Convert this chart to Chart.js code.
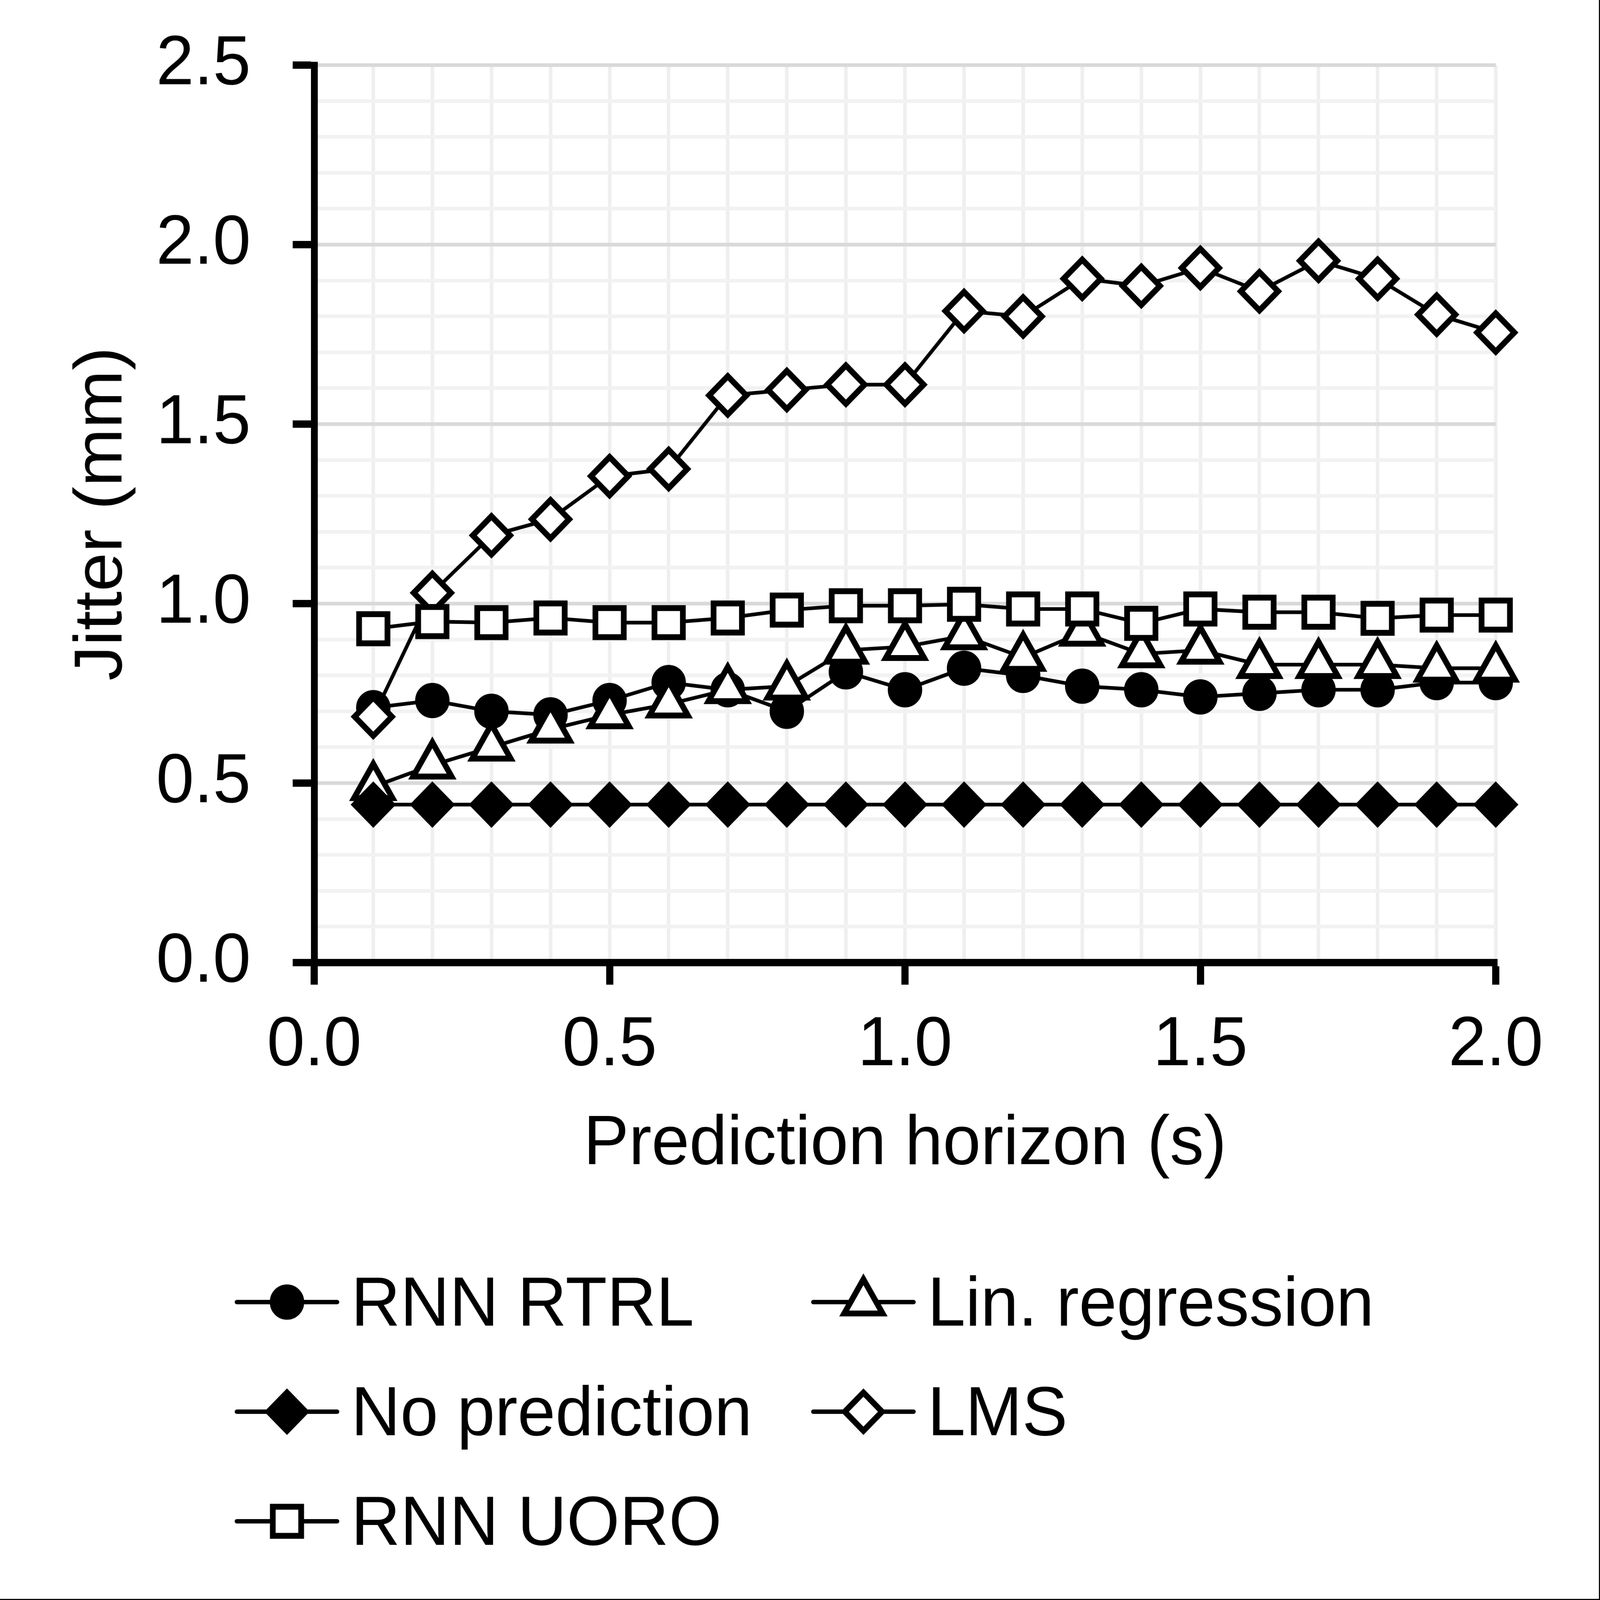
<!DOCTYPE html>
<html>
<head>
<meta charset="utf-8">
<script src="https://cdn.jsdelivr.net/npm/chart.js@4.4.1/dist/chart.umd.min.js"></script>
<style>
  html, body { margin: 0; padding: 0; background: #fff; overflow: hidden; }
</style>
</head>
<body>
<canvas id="chart" width="4466" height="4350" style="width:100vw;height:100vh;display:block"></canvas>
<script>
// --- DATA ---
const horizons = [0.1, 0.2, 0.3, 0.4, 0.5, 0.6, 0.7, 0.8, 0.9, 1.0, 1.1, 1.2, 1.3, 1.4, 1.5, 1.6, 1.7, 1.8, 1.9, 2.0];
const rnnRtrl = [0.71, 0.73, 0.70, 0.69, 0.73, 0.78, 0.76, 0.70, 0.81, 0.76, 0.82, 0.80, 0.77, 0.76, 0.74, 0.75, 0.76, 0.76, 0.78, 0.78];
const linRegression = [0.49, 0.55, 0.60, 0.65, 0.69, 0.72, 0.76, 0.77, 0.87, 0.88, 0.91, 0.85, 0.92, 0.86, 0.87, 0.83, 0.83, 0.83, 0.82, 0.82];
const noPrediction = [0.44, 0.44, 0.44, 0.44, 0.44, 0.44, 0.44, 0.44, 0.44, 0.44, 0.44, 0.44, 0.44, 0.44, 0.44, 0.44, 0.44, 0.44, 0.44, 0.44];
const lms = [0.685, 1.03, 1.19, 1.235, 1.355, 1.375, 1.58, 1.595, 1.61, 1.61, 1.815, 1.80, 1.905, 1.885, 1.935, 1.87, 1.955, 1.905, 1.805, 1.755];
const rnnUoro = [0.93, 0.95, 0.947, 0.96, 0.947, 0.947, 0.96, 0.982, 0.994, 0.994, 0.998, 0.985, 0.985, 0.945, 0.985, 0.976, 0.976, 0.959, 0.968, 0.968];

const seriesNames = ['RNN RTRL', 'Lin. regression', 'No prediction', 'LMS', 'RNN UORO'];
const xTickLabels = ['0.0', '0.5', '1.0', '1.5', '2.0'];
const yTickLabels = ['0.0', '0.5', '1.0', '1.5', '2.0', '2.5'];

const FONT = '"Liberation Sans", Arial, sans-serif';

// marker look per series (Excel style black/white markers)
const markers = [
    { style: 'circle',   radius: 40, fill: '#000' },
    { style: 'triangle', radius: 62, fill: '#fff' },
    { style: 'rectRot',  radius: 52, fill: '#000' },
    { style: 'rectRot',  radius: 52, fill: '#fff' },
    { style: 'rect',     radius: 56, fill: '#fff' }
];
const seriesValues = [rnnRtrl, linRegression, noPrediction, lms, rnnUoro];

const isMajor = v => Math.abs(v * 2 - Math.round(v * 2)) < 1e-6;

function toPoints(values) {
    return horizons.map((h, i) => ({ x: h, y: values[i] }));
}

const datasets = seriesNames.map((name, i) => ({
    label: name,
    data: toPoints(seriesValues[i]),
    borderColor: '#000',
    borderWidth: 10,
    backgroundColor: markers[i].fill,
    pointStyle: markers[i].style,
    pointRadius: markers[i].radius,
    pointHoverRadius: markers[i].radius,
    pointBackgroundColor: markers[i].fill,
    pointBorderColor: '#000',
    pointBorderWidth: 16,
    tension: 0,
    fill: false,
    clip: false,
    // later series sit on top, like the original
    order: seriesNames.length - i
}));

// --- LEGEND (two columns, line + marker) ---
const legendPlugin = {
    id: 'gridLegend',
    afterDraw(chart) {
        const ctx = chart.ctx;
        const colX = [661, 2270];
        const rowY = [3540, 3838, 4136];
        const lineLen = 280;

        ctx.save();
        seriesNames.forEach((name, i) => {
            const col = i % 2;
            const row = Math.floor(i / 2);
            const x0 = colX[col];
            const y = rowY[row];

            ctx.strokeStyle = '#000';
            ctx.lineWidth = 12;
            ctx.lineCap = 'round';
            ctx.beginPath();
            ctx.moveTo(x0, y);
            ctx.lineTo(x0 + lineLen, y);
            ctx.stroke();

            ctx.lineCap = 'butt';
            ctx.fillStyle = markers[i].fill;
            ctx.lineWidth = 16;
            Chart.helpers.drawPoint(ctx, {
                pointStyle: markers[i].style,
                radius: markers[i].radius,
                rotation: 0,
                borderWidth: 16
            }, x0 + lineLen / 2, y);

            ctx.fillStyle = '#000';
            ctx.font = '190px ' + FONT;
            ctx.textAlign = 'left';
            ctx.textBaseline = 'alphabetic';
            ctx.fillText(name, x0 + lineLen + 39, y + 64);
        });

        // thin frame on right and bottom edges
        ctx.strokeStyle = '#000';
        ctx.lineWidth = 3;
        ctx.beginPath();
        ctx.moveTo(chart.width - 1.5, 0);
        ctx.lineTo(chart.width - 1.5, chart.height - 1.5);
        ctx.lineTo(0, chart.height - 1.5);
        ctx.stroke();
        ctx.restore();
    }
};

new Chart(document.getElementById('chart').getContext('2d'), {
    type: 'line',
    data: { datasets },
    options: {
        responsive: false,
        devicePixelRatio: 1,
        animation: false,
        events: [],
        layout: { padding: { left: 0, top: 177, right: 291, bottom: 1000 } },
        plugins: {
            legend: { display: false },
            tooltip: { enabled: false }
        },
        scales: {
            x: {
                type: 'linear',
                min: 0,
                max: 2,
                afterFit: scale => {
                    scale.height = 733;
                    scale.paddingLeft = 0;
                    scale.paddingRight = 0;
                },
                ticks: {
                    stepSize: 0.1,
                    autoSkip: false,
                    maxRotation: 0,
                    padding: 53,
                    color: '#000',
                    font: { family: FONT, size: 190 },
                    callback: v => isMajor(v) ? xTickLabels[Math.round(v * 2)] : ''
                },
                grid: {
                    color: '#efefef',
                    lineWidth: 10,
                    drawTicks: true,
                    tickLength: 60,
                    tickWidth: 20,
                    tickColor: c => isMajor(c.tick.value) ? '#000' : 'rgba(0,0,0,0)'
                },
                border: { display: true, color: '#000', width: 20 },
                title: {
                    display: true,
                    text: 'Prediction horizon (s)',
                    color: '#000',
                    font: { family: FONT, size: 190 },
                    padding: { top: 0, bottom: 123 }
                }
            },
            y: {
                type: 'linear',
                min: 0,
                max: 2.5,
                afterFit: scale => {
                    scale.width = 877;
                    scale.paddingTop = 0;
                    scale.paddingBottom = 0;
                },
                ticks: {
                    stepSize: 0.1,
                    autoSkip: false,
                    padding: 117,
                    color: '#000',
                    font: { family: FONT, size: 190 },
                    callback: v => isMajor(v) ? yTickLabels[Math.round(v * 2)] : ''
                },
                grid: {
                    color: c => isMajor(c.tick.value) ? '#d9d9d9' : '#f2f2f2',
                    lineWidth: 10,
                    drawTicks: true,
                    tickLength: 60,
                    tickWidth: 20,
                    tickColor: c => isMajor(c.tick.value) ? '#000' : 'rgba(0,0,0,0)'
                },
                border: { display: true, color: '#000', width: 19 },
                title: {
                    display: true,
                    text: 'Jitter (mm)',
                    color: '#000',
                    font: { family: FONT, size: 190 },
                    padding: { top: 173, bottom: 0 }
                }
            }
        }
    },
    plugins: [legendPlugin]
});
</script>
</body>
</html>
